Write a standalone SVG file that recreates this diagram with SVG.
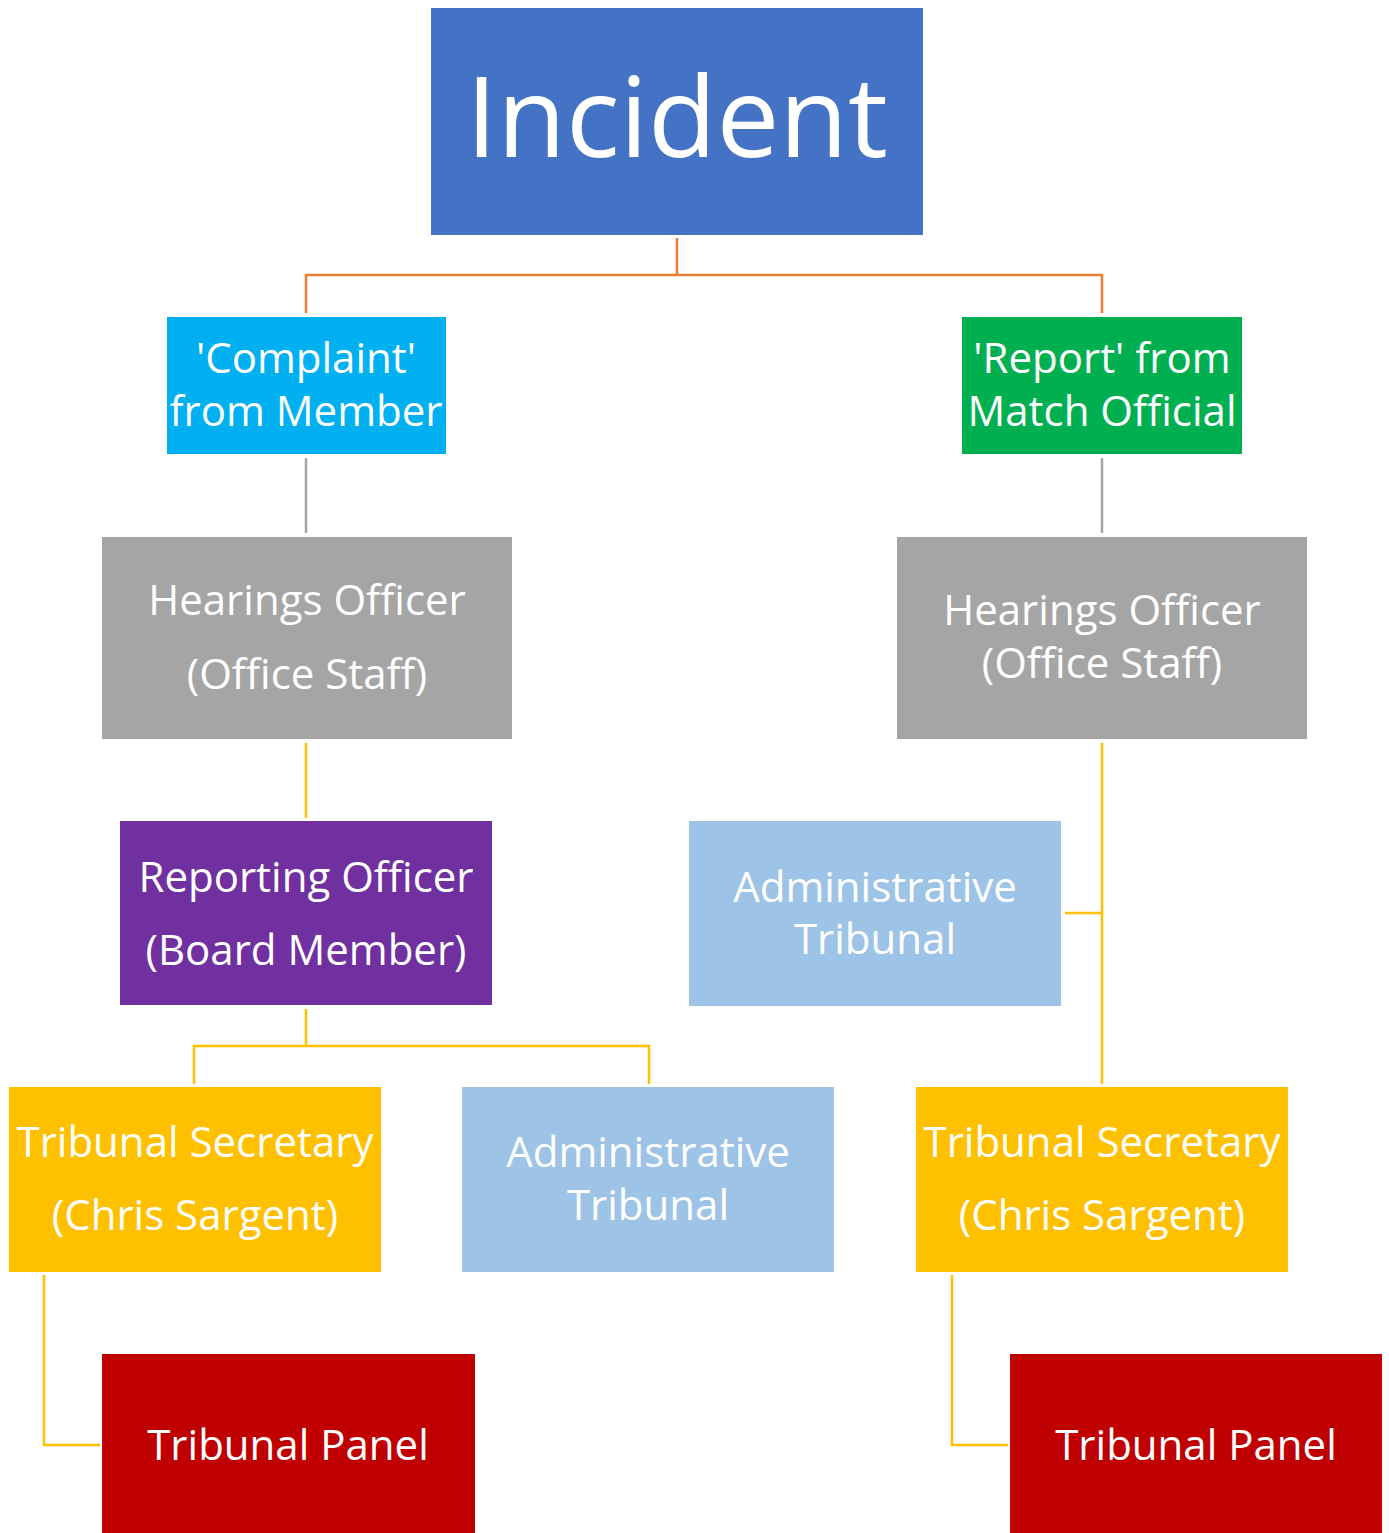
<svg xmlns="http://www.w3.org/2000/svg" width="1389" height="1533" viewBox="0 0 1389 1533">
<style>
.t{font-family:"Open Sans","Noto Sans","Liberation Sans",sans-serif;fill:#fff;text-anchor:middle;font-size:42px}
.c{fill:none;stroke-width:2.5}
.o{stroke:#ED7D31}.g{stroke:#A5A5A5}.y{stroke:#FFC000}
</style>
<rect width="1389" height="1533" fill="#fff"/>
<g id="connectors">
<path class="c o" d="M677 238V275M306 313V275H1102V313"/>
<path class="c g" d="M306 458V533M1102 458V533"/>
<path class="c y" d="M306 743V818"/>
<path class="c y" d="M306 1009V1046M194 1084V1046H649V1084"/>
<path class="c y" d="M1102 743V1084M1065 913H1102"/>
<path class="c y" d="M44 1275V1445H100"/>
<path class="c y" d="M952 1275V1445H1008"/>
</g>
<g id="incident"><rect x="431" y="8" width="492" height="227" fill="#4472C4"/><text class="t" x="677" y="157" style="font-size:112px">Incident</text></g>
<g id="complaint"><rect x="167" y="317" width="279" height="137" fill="#00B0F0"/><text class="t" x="306" y="373">'Complaint'</text><text class="t" x="306" y="426">from Member</text></g>
<g id="report"><rect x="962" y="317" width="280" height="137" fill="#00B050"/><text class="t" x="1102" y="373">'Report' from</text><text class="t" x="1102" y="426">Match Official</text></g>
<g id="hearings-left"><rect x="102" y="537" width="410" height="202" fill="#A5A5A5"/><text class="t" x="307" y="615">Hearings Officer</text><text class="t" x="307" y="689">(Office Staff)</text></g>
<g id="hearings-right"><rect x="897" y="537" width="410" height="202" fill="#A5A5A5"/><text class="t" x="1102" y="625">Hearings Officer</text><text class="t" x="1102" y="678">(Office Staff)</text></g>
<g id="reporting-officer"><rect x="120" y="821" width="372" height="184" fill="#7030A0"/><text class="t" x="306" y="892">Reporting Officer</text><text class="t" x="306" y="965">(Board Member)</text></g>
<g id="admin-upper"><rect x="689" y="821" width="372" height="185" fill="#9DC3E6"/><text class="t" x="875" y="902">Administrative</text><text class="t" x="875" y="954">Tribunal</text></g>
<g id="secretary-left"><rect x="9" y="1087" width="372" height="185" fill="#FFC000"/><text class="t" x="195" y="1157">Tribunal Secretary</text><text class="t" x="195" y="1230">(Chris Sargent)</text></g>
<g id="admin-lower"><rect x="462" y="1087" width="372" height="185" fill="#9DC3E6"/><text class="t" x="648" y="1167">Administrative</text><text class="t" x="648" y="1220">Tribunal</text></g>
<g id="secretary-right"><rect x="916" y="1087" width="372" height="185" fill="#FFC000"/><text class="t" x="1102" y="1157">Tribunal Secretary</text><text class="t" x="1102" y="1230">(Chris Sargent)</text></g>
<g id="panel-left"><rect x="102" y="1354" width="373" height="179" fill="#C00000"/><text class="t" x="288" y="1460">Tribunal Panel</text></g>
<g id="panel-right"><rect x="1010" y="1354" width="372" height="179" fill="#C00000"/><text class="t" x="1196" y="1460">Tribunal Panel</text></g>
</svg>
